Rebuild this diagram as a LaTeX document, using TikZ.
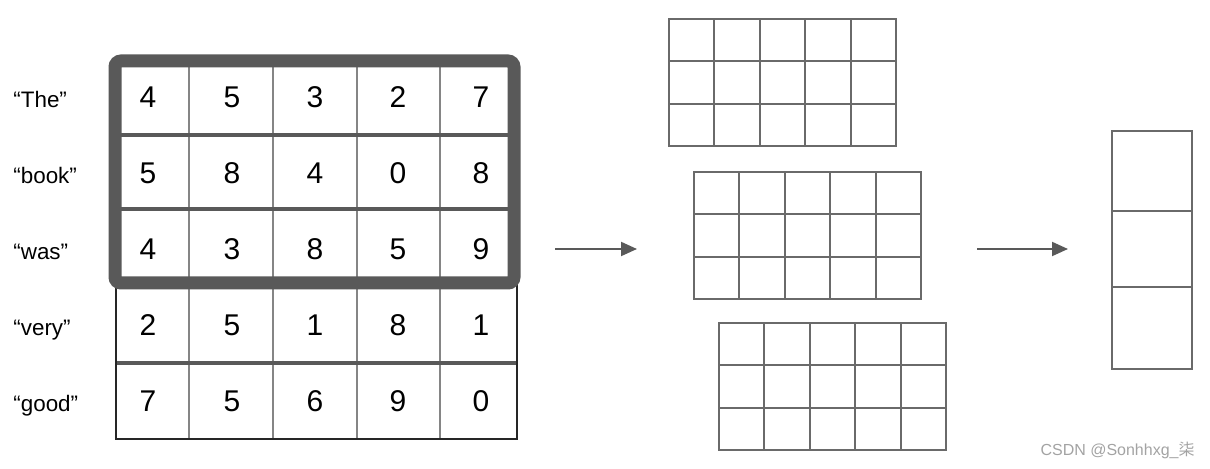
\documentclass[tikz,border=0pt]{standalone}
\usepackage{fontspec}
\setmainfont{Liberation Sans}
\newfontfamily\cjkfont{Noto Sans CJK SC}
\usetikzlibrary{arrows.meta,positioning}

\definecolor{framegray}{HTML}{595959}
\definecolor{gridgray}{HTML}{6A6A6A}
\definecolor{colgray}{HTML}{858585}
\definecolor{markgray}{HTML}{A3A3A3}

\begin{document}
\begin{tikzpicture}[
x=0.5pt, y=-0.5pt,
wordnode/.style={anchor=base west, inner sep=0pt, font=\fontsize{11.2}{12}\selectfont},
numnode/.style={anchor=base, inner sep=0pt, font=\fontsize{15}{15}\selectfont},
colline/.style={draw=colgray, line width=1pt},
rowline/.style={draw=framegray, line width=2.4pt},
tableedge/.style={draw=black!85, line width=1pt},
framebox/.style={draw=framegray, line width=6.5pt, rounded corners=3pt},
gridline/.style={draw=gridgray, line width=1pt},
arrowline/.style={draw=framegray, line width=1pt, -{Triangle[length=8pt,width=7pt]}},
]
\useasboundingbox (0,0) rectangle (1210,469);

%Words
\node[wordnode](wThe) at (13,108){“The”};
\node[wordnode](wbook) at (13,184){“book”};
\node[wordnode](wwas) at (13,260){“was”};
\node[wordnode](wvery) at (13,336){“very”};
\node[wordnode](wgood) at (13,412){“good”};

%Table lines
\draw[colline] (189,61) -- (189,439) (273,61) -- (273,439)
  (357,61) -- (357,439) (440,61) -- (440,439);
\draw[rowline] (115,135) -- (514,135) (115,209) -- (514,209);
\draw[rowline, line width=2pt] (116,363) -- (517,363);
\draw[tableedge] (116,283) -- (116,439) -- (517,439) -- (517,283);
\draw[framebox] (115,61) rectangle (514,283);

%Numbers
\node[numnode](n11) at (148,108){4}; \node[numnode](n12) at (232,108){5};
\node[numnode](n13) at (315,108){3}; \node[numnode](n14) at (398,108){2};
\node[numnode](n15) at (481,108){7};
\node[numnode](n21) at (148,184){5}; \node[numnode](n22) at (232,184){8};
\node[numnode](n23) at (315,184){4}; \node[numnode](n24) at (398,184){0};
\node[numnode](n25) at (481,184){8};
\node[numnode](n31) at (148,260){4}; \node[numnode](n32) at (232,260){3};
\node[numnode](n33) at (315,260){8}; \node[numnode](n34) at (398,260){5};
\node[numnode](n35) at (481,260){9};
\node[numnode](n41) at (148,336){2}; \node[numnode](n42) at (232,336){5};
\node[numnode](n43) at (315,336){1}; \node[numnode](n44) at (398,336){8};
\node[numnode](n45) at (481,336){1};
\node[numnode](n51) at (148,412){7}; \node[numnode](n52) at (232,412){5};
\node[numnode](n53) at (315,412){6}; \node[numnode](n54) at (398,412){9};
\node[numnode](n55) at (481,412){0};

%Feature maps
\foreach \gx/\gy in {669/19, 694/172, 719/323}{
  \draw[gridline] (\gx,\gy) rectangle ++(227,127);
  \foreach \i in {1,...,4}
    \draw[gridline] (\gx+45.4*\i,\gy) -- ++(0,127);
  \foreach \j in {1,2}
    \draw[gridline] (\gx,\gy+42.3*\j) -- ++(227,0);
}

%Output column
\draw[gridline] (1112,131) rectangle (1192,369);
\draw[gridline] (1112,211) -- (1192,211) (1112,287) -- (1192,287);

%Arrows
\coordinate (a1s) at (555,249);
\coordinate (a1e) at (637,249);
\coordinate (a2s) at (977,249);
\coordinate (a2e) at (1068,249);
\draw[arrowline] (a1s) -- (a1e);
\draw[arrowline] (a2s) -- (a2e);

\node[anchor=base east, inner sep=0pt, text=markgray, font=\fontsize{8}{8}\selectfont](mark) at (1195,456){CSDN @Sonhhxg\_{\cjkfont 柒}};
\end{tikzpicture}
\end{document}
